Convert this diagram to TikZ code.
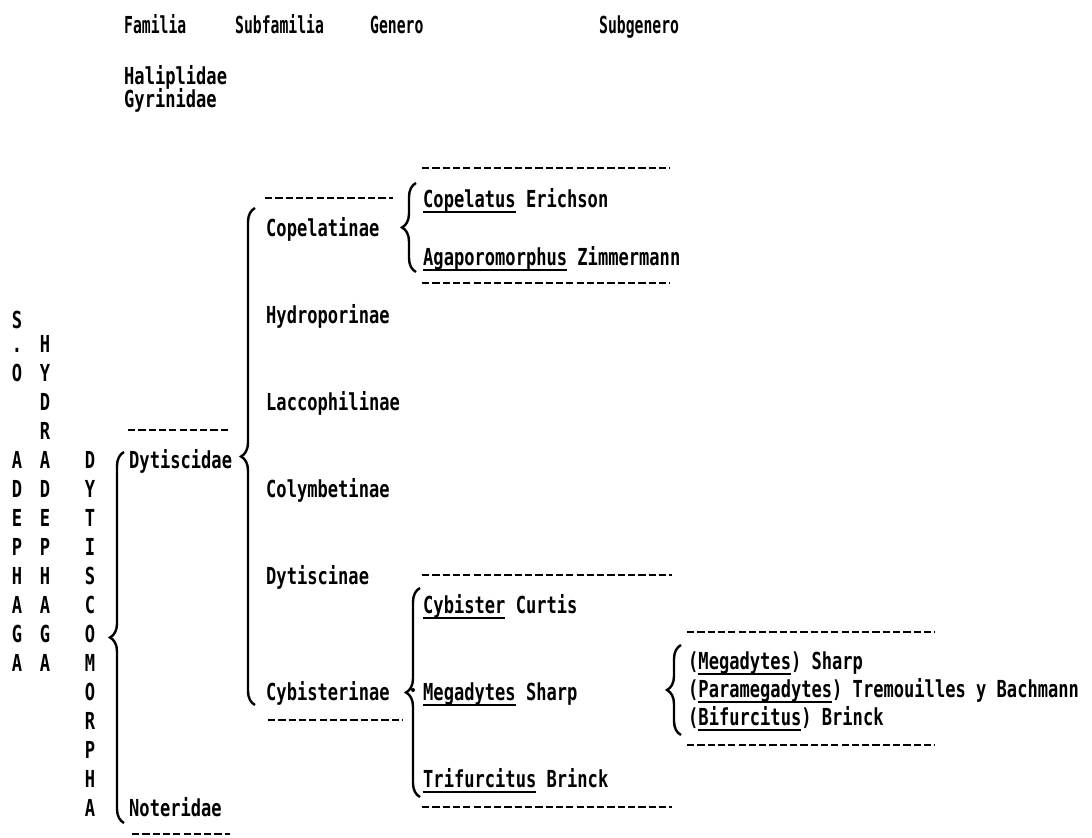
\documentclass[tikz,border=0pt]{standalone}
\usepackage{fontspec}
\newfontfamily\dotmatrix[FakeStretch=0.73]{DejaVu Sans Mono}
\newfontfamily\dothead[FakeStretch=0.63]{DejaVu Sans Mono}
\usetikzlibrary{decorations.pathreplacing}
\newcommand\uname[1]{\setbox0\hbox{#1}\rlap{\rule[-2.6pt]{\wd0}{0.9pt}}\box0\relax}

\begin{document}
\begin{tikzpicture}[x=0.5pt,y=-0.5pt,line width=1.2pt,
	font=\dotmatrix\bfseries\fontsize{11.7}{14}\selectfont,
	txt/.style={anchor=west,inner sep=0pt,text height=8.5pt,text depth=0pt},
	head/.style={txt,font=\dothead\bfseries\fontsize{11.7}{14}\selectfont},
	chr/.style={txt,anchor=center},
	brc/.style={decorate,decoration={brace,amplitude=7pt}},
	sep/.style={dash pattern=on 3.6pt off 1.55pt}]
	\useasboundingbox (0,0) rectangle (1092,838);

	\node[head] (familia) at (123,25) {Familia};
	\node[head] (subfamilia) at (234,25) {Subfamilia};
	\node[head] (genero) at (369,25) {Genero};
	\node[head] (subgenero) at (598,25) {Subgenero};

	\node[txt] (haliplidae) at (123,76) {Haliplidae};
	\node[txt] (gyrinidae) at (123,99) {Gyrinidae};
	\node[txt] (dytiscidae) at (128,460) {Dytiscidae};
	\node[txt] (noteridae) at (128,808) {Noteridae};

	% suborden / infraorden, letra por letra
	\foreach \c / \y in {S/320,./344,O/373} { \node[chr] (so-\y) at (17,\y) {\c};}
	\foreach \c [count=\i from 0] in {A,D,E,P,H,A,G,A} { \node[chr] (ad-\i) at (17,{460+29*\i}) {\c};}
	\foreach \c [count=\i from 0] in {H,Y,D,R,A,D,E,P,H,A,G,A} { \node[chr] (hy-\i) at (45,{344+29*\i}) {\c};}
	\foreach \c [count=\i from 0] in {D,Y,T,I,S,C,O,M,O,R,P,H,A} { \node[chr] (dy-\i) at (90,{460+29*\i}) {\c};}

	\foreach \n / \y / \t in {copelatinae/228/Copelatinae,hydroporinae/315/Hydroporinae,laccophilinae/402/Laccophilinae,colymbetinae/489/Colymbetinae,dytiscinae/576/Dytiscinae,cybisterinae/692/Cybisterinae} { \node[txt] (\n) at (265,\y) {\t};}

	\node[txt] (copelatus) at (422,199) {\uname{Copelatus} Erichson};
	\node[txt] (agaporomorphus) at (422,257) {\uname{Agaporomorphus} Zimmermann};
	\node[txt] (cybister) at (422,605) {\uname{Cybister} Curtis};
	\node[txt] (megadytes) at (422,692) {\uname{Megadytes} Sharp};
	\node[txt] (trifurcitus) at (422,779) {\uname{Trifurcitus} Brinck};
	\fill (413,690) circle (2);

	\node[txt] (sg-megadytes) at (687,661) {(\uname{Megadytes}) Sharp};
	\node[txt] (sg-paramegadytes) at (687,689) {(\uname{Paramegadytes}) Tremouilles y Bachmann};
	\node[txt] (sg-bifurcitus) at (687,717) {(\uname{Bifurcitus}) Brinck};

	\draw[brc] (124,823) -- (124,452);
	\draw[brc] (255,705) -- (255,208);
	\draw[brc] (416,272) -- (416,183);
	\draw[brc] (420,797) -- (420,588);
	\draw[brc] (681,735) -- (681,645);

	\foreach \xa / \xb / \y in {422/670/168,265/393/198,422/670/283,128/230/430,422/672/575,687/935/632,268/402/720,687/935/745,422/672/807,132/230/834} { \draw[sep] (\xa,\y) -- (\xb,\y);}
\end{tikzpicture}
\end{document}
